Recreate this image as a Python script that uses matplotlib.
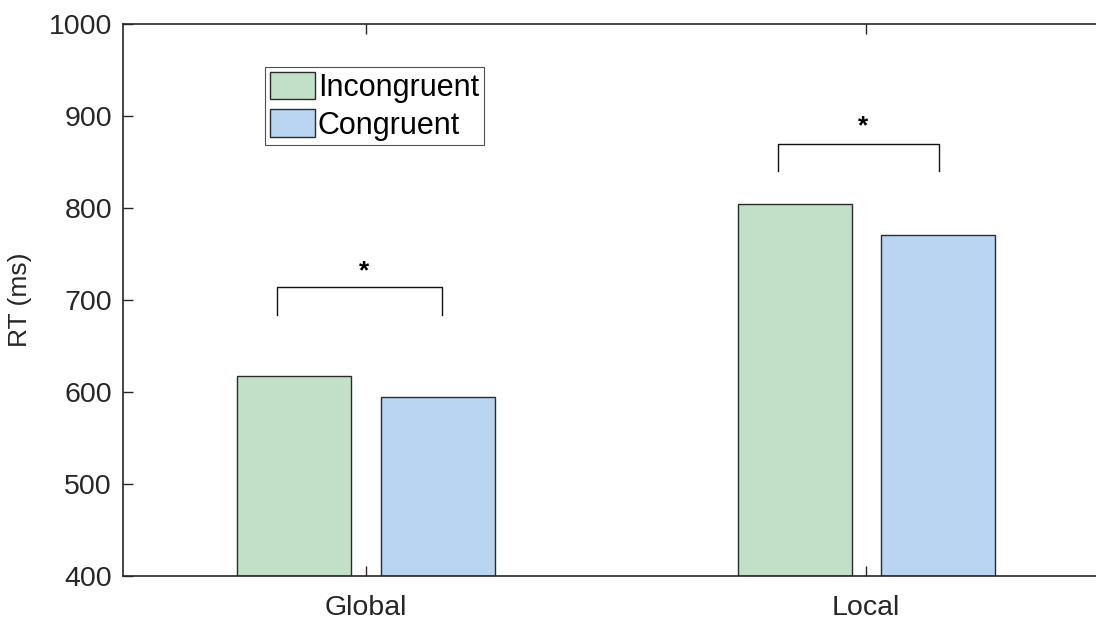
import matplotlib
matplotlib.use("Agg")
import matplotlib.pyplot as plt
import numpy as np

plt.rcParams['font.family'] = ['Liberation Sans', 'DejaVu Sans']

# Mean reaction times per level and condition
levels = ["Global", "Local"]
conditions = ["Incongruent", "Congruent"]
incongruent_rt = [617.5, 804.5]
congruent_rt = [594.5, 770.5]

# Significance brackets: (left x, right x, bar height, leg bottom, star height)
sig_left = [0.822, 1.824]
sig_right = [1.152, 2.146]
sig_top = [714, 869.5]
sig_bottom = [683.5, 840.5]
sig_star = [731, 889]
sig_text = ["*", "*"]

yticks = [400, 500, 600, 700, 800, 900, 1000]

W, H = 1096, 621
fig = plt.figure(figsize=(W / 100, H / 100), dpi=100)
ax_left, ax_right, ax_top, ax_bottom = 123, 1116, 24, 576
ax = fig.add_axes([ax_left / W, 1 - ax_bottom / H,
                   (ax_right - ax_left) / W, (ax_bottom - ax_top) / H])

x = np.arange(1, len(levels) + 1)
bw = 0.228
off = 0.143
green = "#c2dfc7"
blue = "#bad5f2"
edge = "#2b2b2b"
ax.bar(x - off, [v - 400 for v in incongruent_rt], bw, bottom=400,
       color=green, edgecolor=edge, linewidth=1.0, label=conditions[0], zorder=2)
ax.bar(x + off, [v - 400 for v in congruent_rt], bw, bottom=400,
       color=blue, edgecolor=edge, linewidth=1.0, label=conditions[1], zorder=2)

for l, r, t, b, s, txt in zip(sig_left, sig_right, sig_top, sig_bottom, sig_star, sig_text):
    ax.plot([l, l, r, r], [b, t, t, b], color="#111111", linewidth=1.0, zorder=3)
    ax.text((l + r) / 2 + 0.01, s, txt, ha="center", va="center", fontsize=19,
            fontweight="bold", color="black")

ax.set_xlim(0.514, 2.5)
ax.set_ylim(400, 1000)
ax.set_xticks(x)
ax.set_xticklabels(levels)
ax.set_yticks(yticks)
ax.tick_params(axis="both", direction="in", length=7, width=1.0, labelsize=20.5,
               colors="#262626", top=True, right=True, pad=8)
ax.tick_params(axis="x", pad=14)
for sp in ax.spines.values():
    sp.set_linewidth(1.2)
    sp.set_color("#262626")
ax.spines["right"].set_visible(False)
ax.set_ylabel("RT (ms)", fontsize=19, color="#262626", labelpad=12)

leg = ax.legend(loc="upper left", bbox_to_anchor=((265 - ax_left) / (ax_right - ax_left),
                                                  1 - (67 - ax_top) / (ax_bottom - ax_top)),
                fontsize=22, frameon=True, fancybox=False, edgecolor="#262626",
                handlelength=1.5, handleheight=1.0, handletextpad=0.08,
                labelspacing=0.22, borderpad=0.15, borderaxespad=0.0)
leg.get_frame().set_linewidth(0.8)

fig.savefig("out.png", dpi=100)
